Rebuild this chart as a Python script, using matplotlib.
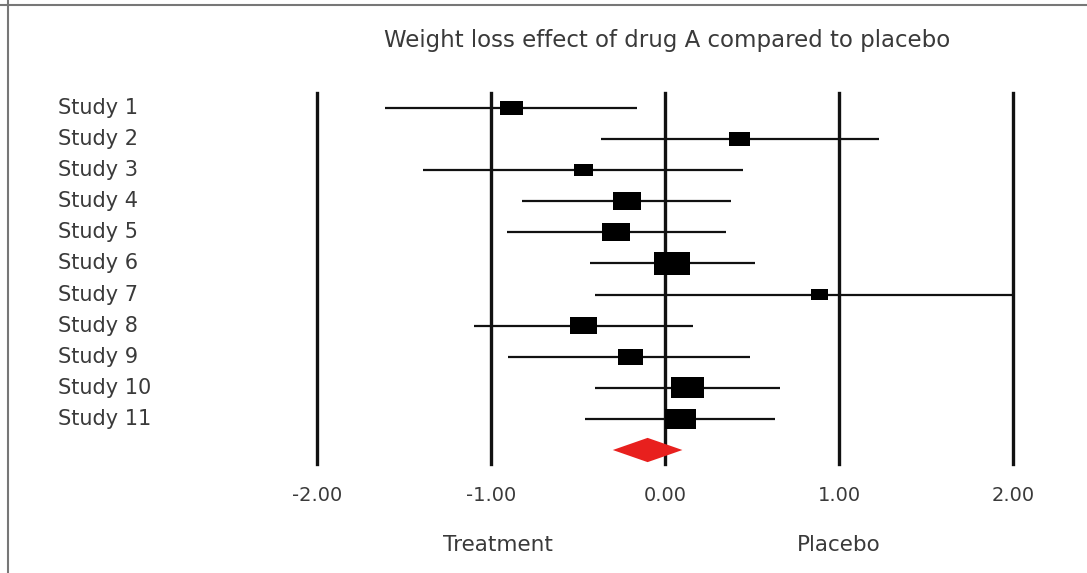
import matplotlib
matplotlib.use("Agg")
import matplotlib.pyplot as plt
from matplotlib.patches import Polygon
from matplotlib.lines import Line2D
import matplotlib.transforms as mtransforms

# --- data ---
studies = ["Study 1", "Study 2", "Study 3", "Study 4", "Study 5", "Study 6",
           "Study 7", "Study 8", "Study 9", "Study 10", "Study 11"]
estimate = [-0.88, 0.43, -0.47, -0.22, -0.28, 0.04, 0.89, -0.47, -0.20, 0.13, 0.09]
ci_low = [-1.61, -0.37, -1.39, -0.82, -0.91, -0.43, -0.40, -1.10, -0.90, -0.40, -0.46]
ci_high = [-0.16, 1.23, 0.45, 0.38, 0.35, 0.52, 2.00, 0.16, 0.49, 0.66, 0.63]
weight = [6.6, 5.4, 4.5, 10.0, 10.0, 16.4, 3.7, 9.4, 8.1, 13.7, 12.3]

pooled_est = -0.10
pooled_low = -0.30
pooled_high = 0.10

ref_lines = [-2, -1, 0, 1, 2]
tick_labels = ["-2.00", "-1.00", "0.00", "1.00", "2.00"]

title = "Weight loss effect of drug A compared to placebo"
left_label = "Treatment"
right_label = "Placebo"

plt.rcParams['font.family'] = ['DejaVu Sans']
text_col = '#3a3a3a'

W, H = 1087, 573
fig = plt.figure(figsize=(W / 100, H / 100), dpi=100)
fig.patch.set_facecolor('white')

# axes placed so that -2..2 spans the reference lines
ax = fig.add_axes([317 / W, 1 - 464 / H, 696 / W, 371 / H])
ax.set_xlim(-2, 2)
ax.set_ylim(11.45, -0.48)
for s in ax.spines.values():
    s.set_visible(False)
ax.set_yticks([])

for x in ref_lines:
    ax.axvline(x, color='#111111', lw=2.4, zorder=1, clip_on=False)

rows = list(range(len(studies)))
ax.hlines(rows, ci_low, ci_high, color='#111111', lw=1.6, zorder=2)

# rectangular boxes, area proportional to weight
box = [(-1, -0.64), (1, -0.64), (1, 0.64), (-1, 0.64), (-1, -0.64)]
ax.scatter(estimate, rows, s=[w * 41 for w in weight], marker=box,
           color='black', linewidths=0, zorder=3)

# pooled diamond
prow = len(studies)
dh = 0.39
ax.add_patch(Polygon([(pooled_low, prow), (pooled_est, prow - dh),
                      (pooled_high, prow), (pooled_est, prow + dh)],
                     closed=True, color='#e8201e', lw=0, zorder=4))

ax.set_xticks(ref_lines)
ax.set_xticklabels(tick_labels, color=text_col, fontsize=14)
ax.tick_params(axis='x', length=0, pad=16)

# study names, left aligned near figure edge
trans = mtransforms.blended_transform_factory(fig.transFigure, ax.transData)
for r, name in zip(rows, studies):
    ax.text(58 / W, r, name, transform=trans, ha='left', va='center',
            fontsize=15, color=text_col)

tr2 = mtransforms.blended_transform_factory(ax.transData, ax.transAxes)
ax.text(-0.96, -0.218, left_label, transform=tr2, ha='center', va='center',
        fontsize=15.5, color=text_col)
ax.text(1.0, -0.218, right_label, transform=tr2, ha='center', va='center',
        fontsize=15.5, color=text_col)

fig.text(667 / W, 1 - 40 / H, title, ha='center', va='center',
         fontsize=16.5, color=text_col)

# frame lines at top and left
fig.add_artist(Line2D([0, 1], [1 - 5 / H, 1 - 5 / H], transform=fig.transFigure,
                      color='#777777', lw=1.5))
fig.add_artist(Line2D([8 / W, 8 / W], [0, 1], transform=fig.transFigure,
                      color='#777777', lw=1.5))

fig.savefig("out.png", dpi=100)
